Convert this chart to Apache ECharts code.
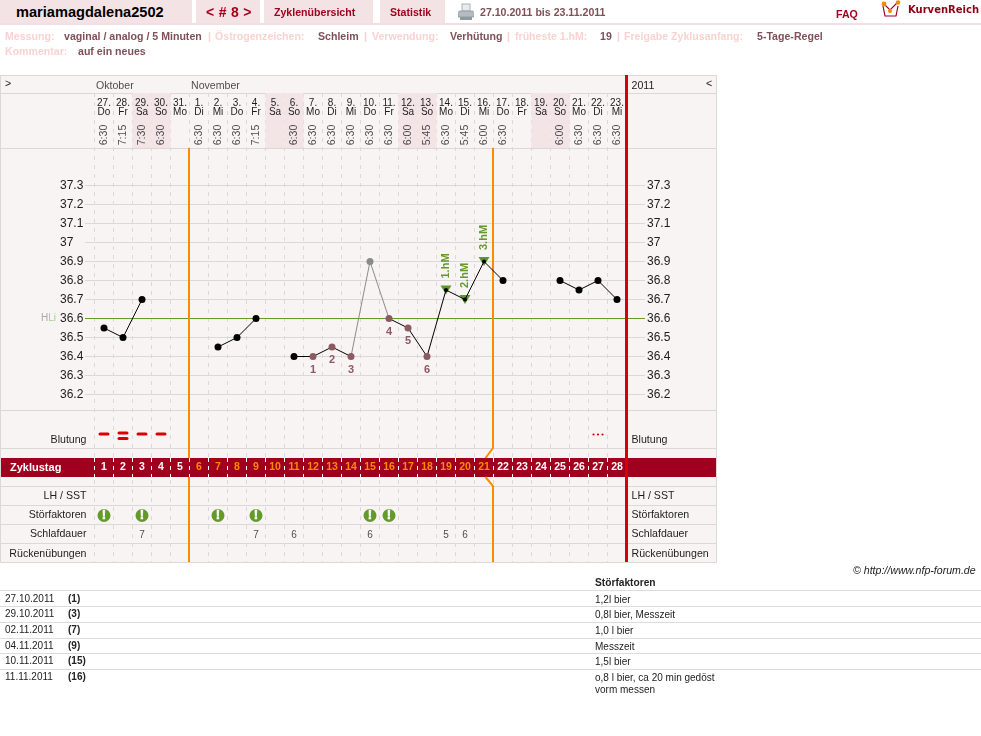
<!DOCTYPE html>
<html lang="de">
<head>
<meta charset="utf-8">
<title>mariamagdalena2502 – Zyklus 8</title>
<script src="https://cdn.jsdelivr.net/npm/echarts@6/dist/echarts.min.js"></script>
<style>
  html, body { margin: 0; padding: 0; background: #fff; }
  body { width: 981px; height: 736px; position: relative; overflow: hidden;
         font-family: "Liberation Sans", Arial, sans-serif; font-size: 11px; }
  #chart { position: absolute; left: 0; top: 0; width: 981px; height: 736px; }
  .t { position: absolute; white-space: nowrap; line-height: 1; }
  .tab { position: absolute; top: 0; height: 23px; background: #f3e3e5; }
  .b { font-weight: bold; }
  .key { color: #f9d2d2; font-weight: bold; }
  .val { color: #7f5058; font-weight: bold; }
  .nav { color: #a3001f; font-weight: bold; }
  .rule { position: absolute; left: 0; width: 981px; height: 1px; background: #dcdcdc; }
</style>
</head>
<body>
<div id="chart"></div>
<div id="page"></div>
<script>
// Calendar and cycle columns
const dates = ['27.','28.','29.','30.','31.','1.','2.','3.','4.','5.','6.','7.','8.','9.','10.','11.','12.','13.','14.','15.','16.','17.','18.','19.','20.','21.','22.','23.'];
const weekdays = ['Do','Fr','Sa','So','Mo','Di','Mi','Do','Fr','Sa','So','Mo','Di','Mi','Do','Fr','Sa','So','Mo','Di','Mi','Do','Fr','Sa','So','Mo','Di','Mi'];
const times = ['6:30','7:15','7:30','6:30',null,'6:30','6:30','6:30','7:15',null,'6:30','6:30','6:30','6:30','6:30','6:30','6:00','5:45','6:30','5:45','6:00','6:30',null,null,'6:00','6:30','6:30','6:30'];
const cycleDays = ['1','2','3','4','5','6','7','8','9','10','11','12','13','14','15','16','17','18','19','20','21','22','23','24','25','26','27','28'];
const months = [['Oktober', 0], ['November', 5]];

// Basal temperature per cycle day
const temperatures = [36.55,36.5,36.7,null,null,null,36.45,36.5,36.6,null,36.4,36.4,36.45,36.4,36.9,36.6,36.55,36.4,36.75,36.7,36.9,36.8,null,null,36.8,36.75,36.8,36.7];
const excludedDays = [15];
const lowDays = [[12,'1'],[13,'2'],[14,'3'],[16,'4'],[17,'5'],[18,'6']];
const highDays = [[19,'1.hM'],[20,'2.hM'],[21,'3.hM']];
const coverLine = 36.6;
const tempTicks = { min: 36.2, max: 37.3, interval: 0.1 };

// Row entries: bleeding strength, disturbances, sleep hours
const bleeding = [[1,1],[2,2],[3,1],[4,1],[27,0.5]];
const disturbanceDays = [1,3,7,9,15,16];
const sleepHours = [[3,'7'],[9,'7'],[11,'6'],[15,'6'],[19,'5'],[20,'6']];
const phaseEnds = [5, 21];
const weekendDays = [3,4,10,11,17,18,24,25];

// Notes table
const noteDates = ['27.10.2011','29.10.2011','02.11.2011','04.11.2011','10.11.2011','11.11.2011'];
const noteDays = ['(1)','(3)','(7)','(9)','(15)','(16)'];
const noteTexts = ['1,2l bier','0,8l bier, Messzeit','1,0 l bier','Messzeit','1,5l bier','o,8 l bier, ca 20 min gedöst\nvorm messen'];

// Summary line
const summaryRow = [['key','Messung:',5],['val','vaginal / analog / 5 Minuten',64],['key','|',208],['key','Östrogenzeichen:',215],['val','Schleim',318],['key','|',364],['key','Verwendung:',372],['val','Verhütung',450],['key','|',507],['key','früheste 1.hM:',515],['val','19',600],['key','|',617],['key','Freigabe Zyklusanfang:',624],['val','5-Tage-Regel',757]];

const LEFT = 94.5, COL = 19, DAYS = 28;
const RIGHT = LEFT + COL * DAYS;
const FONT = '"Liberation Sans", Arial, sans-serif';
const INK = '#1c1c1c', GRID = '#dcd8d8', PANEL = '#f8f4f4', BAND = '#a0001e';
const ORANGE = '#ff8a00', RED = '#d80000', GREEN = '#64992c', BROWN = '#8c5a62';
const LABEL_SIZE = 10.6;
const rowLines = [93, 148, 410, 448, 486, 505, 524, 543];

const grids = [], xAxes = [], yAxes = [], series = [];
const indexOf = day => day - 1;

// One chart row: a grid across the day columns with its labels on both sides
function addRow(top, height, o = {}) {
  const g = grids.length;
  grids.push({ left: o.left ?? LEFT, width: o.width ?? COL * DAYS, top, height });
  xAxes.push(Object.assign({
    gridIndex: g, type: 'category', data: cycleDays, show: false,
    axisLine: { show: false }, axisTick: { show: false }
  }, o.x || {}));
  const yi = yAxes.length;
  yAxes.push(Object.assign({
    gridIndex: g, type: 'category', data: [o.label || ''], position: 'left',
    axisLine: { show: false }, axisTick: { show: false },
    axisLabel: Object.assign({ color: INK, fontSize: LABEL_SIZE, align: 'right', margin: 8 }, o.labelStyle || {})
  }, o.y || {}));
  yAxes.push({
    gridIndex: g, type: 'category', data: [o.rightLabel || ''], position: 'right',
    axisLine: { show: false }, axisTick: { show: false },
    axisLabel: Object.assign({ color: INK, fontSize: LABEL_SIZE, align: 'left', margin: 5 }, o.rightLabelStyle || {})
  });
  return { x: g, y: yi };
}

// Dashed day columns through the whole panel
addRow(93, 469, {
  x: { show: true, axisLabel: { show: false },
       splitLine: { show: true, interval: 0, lineStyle: { color: GRID, type: [4, 5] } } }
});

// Month row
const monthRow = addRow(77, 18, { rightLabel: '2011' });
series.push({
  type: 'scatter', xAxisIndex: monthRow.x, yAxisIndex: monthRow.y, symbolSize: 0, silent: true,
  data: months.map(m => ({ value: [m[1], 0], label: { formatter: m[0] } })),
  label: { show: true, position: 'inside', align: 'left', verticalAlign: 'middle', offset: [-8, 0], color: INK, fontSize: LABEL_SIZE }
});

// Date header with shaded weekends
const dateRow = addRow(93, 55, {
  x: { show: true, position: 'top',
       axisLabel: { inside: true, interval: 0, margin: 5, fontSize: 10, lineHeight: 9.5, color: INK,
                    verticalAlign: 'top',
                    formatter: (v, i) => dates[i] + '\n' + weekdays[i] } },
  y: { type: 'value', min: 0, max: 1, show: false, splitLine: { show: false } }
});
series.push({
  type: 'bar', xAxisIndex: dateRow.x, yAxisIndex: dateRow.y, barWidth: '100%', silent: true, z: 0,
  itemStyle: { color: '#f3e4e6' },
  data: weekendDays.map(d => [indexOf(d), 1])
});
const timeRow = addRow(122, 26);
series.push({
  type: 'scatter', xAxisIndex: timeRow.x, yAxisIndex: timeRow.y, symbolSize: 0, silent: true,
  data: times.map((t, i) => ({ value: t ? [i, 0] : null, label: { formatter: t || '' } })).filter(d => d.value),
  label: { show: true, position: 'inside', rotate: 90, color: INK, fontSize: LABEL_SIZE, align: 'center', verticalAlign: 'middle' }
});

// Temperature scale: shared gridlines, tick labels and cover line
const frame = grids.length;
grids.push({ left: 85, width: 560, top: 185.5, height: 209 });
xAxes.push({ gridIndex: frame, type: 'value', min: 0, max: 1, show: false });
const tempAxis = g => ({
  gridIndex: g, type: 'value', min: tempTicks.min, max: tempTicks.max, interval: tempTicks.interval,
  axisLine: { show: false }, axisTick: { show: false }
});
yAxes.push(Object.assign(tempAxis(frame), {
  position: 'left',
  axisLabel: { color: INK, fontSize: 12, align: 'left', margin: 25 },
  splitLine: { show: true, lineStyle: { color: GRID, width: 1 } }
}));
yAxes.push(Object.assign(tempAxis(frame), {
  position: 'right',
  axisLabel: { color: INK, fontSize: 12, align: 'left', margin: 2 },
  splitLine: { show: false }
}));
series.push({
  type: 'line', xAxisIndex: frame, yAxisIndex: yAxes.length - 2, z: 0, silent: true,
  symbol: 'none', lineStyle: { color: GREEN, width: 1 },
  data: [
    { value: [0, coverLine], symbol: 'circle', symbolSize: 0,
      label: { show: true, position: 'left', distance: 29, fontSize: 10,
               formatter: '{h|H}{l|Li}', rich: { h: { color: '#a9a9a9', fontSize: 10 }, l: { color: '#a6cc88', fontSize: 10 } } } },
    [1, coverLine]
  ]
});

// Temperature curve
const plot = grids.length;
grids.push({ left: LEFT, width: COL * DAYS, top: 185.5, height: 209 });
xAxes.push({ gridIndex: plot, type: 'category', data: cycleDays, show: false });
yAxes.push(Object.assign(tempAxis(plot), { show: false, splitLine: { show: false } }));
const plotY = yAxes.length - 1;

const lowLabel = new Map(lowDays);
const highLabel = new Map(highDays);
series.push({
  type: 'line', xAxisIndex: plot, yAxisIndex: plotY, z: 3, silent: true, symbol: 'none',
  lineStyle: { color: '#8a8a8a', width: 1 },
  data: temperatures.map((t, i) => excludedDays.some(d => Math.abs(d - (i + 1)) <= 1) ? t : null)
});
series.push({
  type: 'scatter', xAxisIndex: plot, yAxisIndex: plotY, z: 4, silent: true, symbolSize: 7,
  itemStyle: { color: '#8a8a8a', opacity: 1 },
  data: excludedDays.map(d => [indexOf(d), temperatures[indexOf(d)]])
});
series.push({
  type: 'scatter', xAxisIndex: plot, yAxisIndex: plotY, z: 3, silent: true,
  symbol: 'triangle', symbolRotate: 180, symbolSize: [11, 9],
  itemStyle: { color: '#5f962c', opacity: 1 },
  data: highDays.map(h => ({ value: [indexOf(h[0]), temperatures[indexOf(h[0])]], label: { formatter: h[1] } })),
  label: { show: true, position: 'top', distance: 7, rotate: 90, align: 'left', verticalAlign: 'middle',
           color: GREEN, fontSize: 11, fontWeight: 'bold' }
});
series.push({
  type: 'line', xAxisIndex: plot, yAxisIndex: plotY, z: 5, silent: true, showAllSymbol: true,
  symbol: 'circle', connectNulls: false,
  lineStyle: { color: '#000', width: 1 },
  data: temperatures.map((t, i) => {
    const day = i + 1;
    if (t === null || excludedDays.includes(day)) return null;
    if (highLabel.has(day)) return { value: t, symbolSize: 4, itemStyle: { color: '#000' } };
    if (lowLabel.has(day)) return {
      value: t, symbolSize: 7, itemStyle: { color: BROWN },
      label: { show: true, position: 'bottom', distance: 4, formatter: lowLabel.get(day),
               color: BROWN, fontSize: 11, fontWeight: 'bold' }
    };
    return { value: t, symbolSize: 7, itemStyle: { color: '#000' } };
  })
});

// Bleeding row: its labels sit low in the row
const lowRowLabel = { verticalAlign: 'top', lineHeight: 22 };
const bleedRow = addRow(410, 38, {
  label: 'Blutung', rightLabel: 'Blutung',
  labelStyle: lowRowLabel, rightLabelStyle: lowRowLabel
});
series.push({
  type: 'custom', xAxisIndex: bleedRow.x, yAxisIndex: bleedRow.y, silent: true, clip: false, z: 3,
  data: bleeding.map(b => [indexOf(b[0]), 0, b[1]]),
  encode: { x: 0, y: 1 },
  renderItem(params, api) {
    const c = api.coord([api.value(0), 0]);
    const strength = api.value(2);
    const style = { fill: RED };
    const dash = y => ({ type: 'rect', shape: { x: c[0] - 5.5, y, width: 11, height: 3, r: 1.5 }, style });
    const dot = dx => ({ type: 'circle', shape: { cx: c[0] + dx, cy: c[1] + 5.5, r: 1.1 }, style });
    let children;
    if (strength >= 2) children = [dash(c[1] + 2.5), dash(c[1] + 8)];
    else if (strength >= 1) children = [dash(c[1] + 3.5)];
    else children = [dot(-4.5), dot(0), dot(4.5)];
    return { type: 'group', children };
  }
});

// Cycle-day band
const bandRow = addRow(458, 19, {
  label: 'Zyklustag',
  labelStyle: { align: 'left', margin: 84.5, color: '#fff', fontWeight: 'bold', fontSize: 11 },
  x: { show: true, z: 2,
       axisLabel: { inside: true, interval: 0, margin: 4, fontSize: 10.5, fontWeight: 'bold',
                    color: v => { const d = +v; return d > phaseEnds[0] && d <= phaseEnds[1] ? ORANGE : '#fff'; } },
       splitLine: { show: true, interval: 0, lineStyle: { color: '#fff', type: [4, 4] } } }
});
yAxes[bandRow.y].z = 2;

// Remaining rows
addRow(487, 19, { label: 'LH / SST', rightLabel: 'LH / SST' });
const disturbRow = addRow(506, 19, { label: 'Störfaktoren', rightLabel: 'Störfaktoren' });
series.push({
  type: 'scatter', xAxisIndex: disturbRow.x, yAxisIndex: disturbRow.y, z: 3, silent: true,
  symbolSize: 13, itemStyle: { color: GREEN, opacity: 1 },
  data: disturbanceDays.map(d => [indexOf(d), 0]),
  label: { show: true, position: 'inside', formatter: '!', color: '#fff', fontSize: 13, fontWeight: 'bold',
           textBorderColor: '#fff', textBorderWidth: 0.6 }
});
const sleepRow = addRow(525, 19, { label: 'Schlafdauer', rightLabel: 'Schlafdauer' });
series.push({
  type: 'scatter', xAxisIndex: sleepRow.x, yAxisIndex: sleepRow.y, z: 3, silent: true, symbolSize: 0,
  data: sleepHours.map(s => ({ value: [indexOf(s[0]), 0], label: { formatter: s[1] } })),
  label: { show: true, position: 'inside', color: '#222', fontSize: 10, offset: [0, 0.5] }
});
addRow(545, 19, { label: 'Rückenübungen', rightLabel: 'Rückenübungen' });

// Panel surface, row separators, band and phase markers
function hline(y, x1 = 0, x2 = 717) {
  return { type: 'line', z: -5, silent: true, shape: { x1, y1: y + 0.5, x2, y2: y + 0.5 }, style: { stroke: GRID, lineWidth: 1 } };
}
const cornerText = (text, x) => ({ type: 'text', z: 6, silent: true, style: { x, y: 79, text, fill: INK, font: '10.6px ' + FONT } });
const graphics = [
  { type: 'rect', z: -10, silent: true, shape: { x: 0, y: 75, width: 717, height: 488 }, style: { fill: PANEL } },
  { type: 'rect', z: -5, silent: true, shape: { x: 0.5, y: 75.5, width: 716, height: 487 }, style: { fill: 'none', stroke: GRID, lineWidth: 1 } },
  ...rowLines.map(y => hline(y)),
  { type: 'rect', z: 1, silent: true, shape: { x: 1, y: 458, width: 715, height: 19 }, style: { fill: BAND } },
  cornerText('>', 5),
  cornerText('<', 706)
];
const phaseX = phaseEnds.map(d => LEFT + COL * d - 0.5);
const orange = { stroke: ORANGE, lineWidth: 2 };
graphics.push(
  { type: 'polyline', z: 1, silent: true, shape: { points: [[phaseX[0], 148], [phaseX[0], 458]] }, style: orange },
  { type: 'polyline', z: 1, silent: true, shape: { points: [[phaseX[0], 477], [phaseX[0], 562]] }, style: orange },
  { type: 'polyline', z: 1, silent: true, shape: { points: [[phaseX[1], 148], [phaseX[1], 448], [phaseX[1] - 7.5, 458]] }, style: orange },
  { type: 'polyline', z: 1, silent: true, shape: { points: [[phaseX[1] - 7.5, 477], [phaseX[1], 486], [phaseX[1], 562]] }, style: orange },
  { type: 'line', z: 4, silent: true, shape: { x1: RIGHT, y1: 75, x2: RIGHT, y2: 562 }, style: { stroke: RED, lineWidth: 3 } }
);

const chart = echarts.init(document.getElementById('chart'), null, { renderer: 'canvas' });
chart.setOption({
  animation: false,
  textStyle: { fontFamily: FONT },
  grid: grids.map(g => Object.assign({ containLabel: false, show: false }, g)),
  xAxis: xAxes,
  yAxis: yAxes,
  series,
  graphic: graphics
});

// Page header and notes table around the chart
const page = document.getElementById('page');
function put(html, x, y, cls = '', css = '') {
  const e = document.createElement('div');
  e.className = 't ' + cls;
  e.style.cssText = `left:${x}px;top:${y}px;${css}`;
  e.innerHTML = html;
  page.appendChild(e);
  return e;
}
function tab(x, w) {
  const e = document.createElement('div');
  e.className = 'tab';
  e.style.cssText = `left:${x}px;width:${w}px`;
  page.appendChild(e);
}
tab(0, 192); tab(196, 64); tab(264, 109); tab(380, 65);
const headRule = document.createElement('div');
headRule.style.cssText = 'position:absolute;left:0;top:23px;width:981px;height:2px;background:#f3dfe1';
page.appendChild(headRule);
put('mariamagdalena2502', 16, 5, 'b', 'font-size:14.6px;color:#000');
put('&lt; # 8 &gt;', 206, 5, 'nav', 'font-size:14px;letter-spacing:.3px');
put('Zyklenübersicht', 274, 7, 'nav', 'font-size:10.6px');
put('Statistik', 390, 7, 'nav', 'font-size:10.6px');
put('27.10.2011 bis 23.11.2011', 480, 7, 'val', 'font-size:10.6px');
put('FAQ', 836, 9, 'nav', 'font-size:10.6px');
put('KurvenReich', 908, 5, 'nav', 'font-family:"DejaVu Sans";font-size:10px;color:#8c0018');
page.insertAdjacentHTML('beforeend', `
<svg style="position:absolute;left:458px;top:3px" width="16" height="18" viewBox="0 0 16 18">
  <rect x="4" y="1" width="8" height="7" fill="#e8ecef" stroke="#9aa3a8" stroke-width=".8"/>
  <path d="M1 8h14l1 6H0z" fill="#b4bcc2" stroke="#7f888e" stroke-width=".6"/>
  <rect x="2" y="14" width="12" height="3" fill="#8f989e"/>
</svg>
<svg style="position:absolute;left:881px;top:0" width="24" height="20" viewBox="0 0 24 20">
  <path d="M2 6l2 10h11l2-10" fill="#fff" stroke="#a3001f" stroke-width="1.2"/>
  <path d="M3 4l6 6 8-8" fill="none" stroke="#a3001f" stroke-width="1.1"/>
  <circle cx="3" cy="4" r="2.4" fill="#f08a00"/><circle cx="9" cy="11" r="2" fill="#f08a00"/><circle cx="17" cy="2.5" r="2.2" fill="#f08a00"/>
</svg>`);
summaryRow.forEach(([cls, text, x]) => put(text, x, 31, cls, 'font-size:10.6px'));
put('Kommentar:', 5, 46, 'key', 'font-size:10.6px');
put('auf ein neues', 78, 46, 'val', 'font-size:10.6px');
put('© http://www.nfp-forum.de', 853, 565, '', 'font-size:10.6px;font-style:italic;color:#222');

put('Störfaktoren', 595, 578, 'b', 'font-size:10.2px;color:#222');
const noteTops = [590, 606, 622, 638, 653, 669];
const noteInset = [4, 3, 3, 3, 3, 3];
noteTops.forEach((y, i) => {
  const r = document.createElement('div');
  r.className = 'rule';
  r.style.top = y + 'px';
  page.appendChild(r);
  const top = y + noteInset[i];
  put(noteDates[i], 5, top, '', 'font-size:10px;color:#222');
  put(noteDays[i], 68, top, 'b', 'font-size:10px;color:#222');
  put(noteTexts[i].replace('\n', '<br>'), 595, top, '', 'font-size:10px;color:#222;line-height:12px');
});
</script>
</body>
</html>
